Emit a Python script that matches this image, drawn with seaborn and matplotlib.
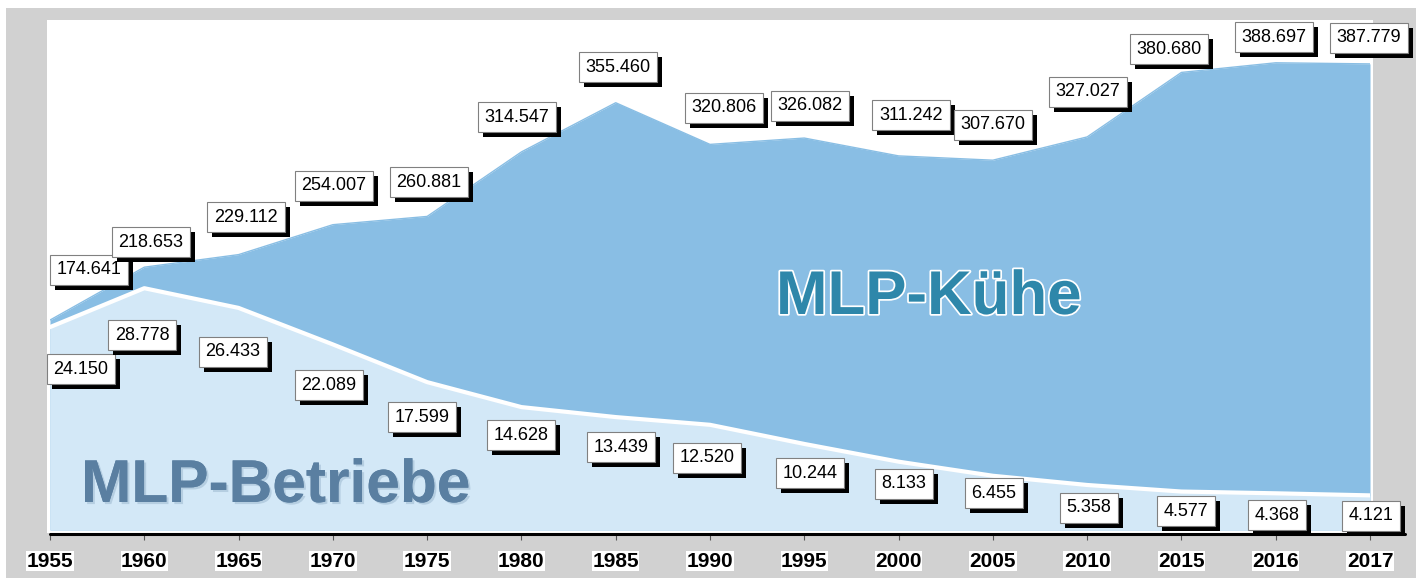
import matplotlib.pyplot as plt
import matplotlib.patheffects as pe
from matplotlib import font_manager
from matplotlib.patches import Rectangle
from matplotlib.lines import Line2D
import seaborn as sns
import pandas as pd

# data
years = ["1955", "1960", "1965", "1970", "1975", "1980", "1985", "1990",
         "1995", "2000", "2005", "2010", "2015", "2016", "2017"]
kuehe = [174641, 218653, 229112, 254007, 260881, 314547, 355460, 320806,
         326082, 311242, 307670, 327027, 380680, 388697, 387779]
betriebe = [24150, 28778, 26433, 22089, 17599, 14628, 13439, 12520,
            10244, 8133, 6455, 5358, 4577, 4368, 4121]

# label box centres in pixels (from top-left)
kuehe_lbl_xy = [(89, 270), (151, 242), (246, 217), (334, 186), (429, 182),
                (517, 117), (618, 67), (724, 108), (810, 106), (911, 115),
                (993, 125), (1088, 92), (1169, 49), (1274, 37), (1369, 38)]
betr_lbl_xy = [(81, 369), (142, 335), (233, 352), (329, 385), (422, 417),
               (521, 435), (621, 447), (707, 458), (810, 473), (904, 484),
               (994, 493), (1089, 508), (1186, 511), (1277, 515), (1371, 516)]

W, H = 1421, 580
KUEHE_C = "#89bee4"
BETR_C = "#d3e8f7"

sns.set_theme(style="white")
plt.rcParams["font.family"] = ["Liberation Sans", "DejaVu Sans"]

names = {f.name for f in font_manager.fontManager.ttflist}
if "Liberation Sans Narrow" in names:
    big_font, k_size, b_size, lift = "Liberation Sans Narrow", 53, 53, 0
else:
    big_font, k_size, b_size, lift = "Liberation Sans", 44.5, 43.5, 4


def fx(x):
    return x / W


def fy(y):
    return 1 - y / H


def de(v):
    return f"{v:,}".replace(",", ".")


df = pd.DataFrame({"pos": range(len(years)), "jahr": years,
                   "kuehe": kuehe, "betriebe": betriebe})

fig = plt.figure(figsize=(W / 100, H / 100), dpi=100, facecolor="white")
fig.patches.append(Rectangle((fx(6), fy(578)), 1410 / W, 570 / H,
                             transform=fig.transFigure, fc="#d1d1d1",
                             ec="none", zorder=-3))
fig.patches.append(Rectangle((fx(47), fy(533)), 1326 / W, 513 / H,
                             transform=fig.transFigure, fc="white",
                             ec="none", zorder=-2))

ax = fig.add_axes([fx(50), 50 / H, 1320 / W, 510 / H])
ax.set_facecolor("none")
ax.fill_between(df["pos"], df["kuehe"], color=KUEHE_C, lw=0)
sns.lineplot(data=df, x="pos", y="kuehe", ax=ax, color=KUEHE_C, lw=1)
ax.set_xlim(0, 14)
ax.set_ylim(0, 424300)

ax2 = ax.twinx()
ax2.fill_between(df["pos"], df["betriebe"], color=BETR_C, lw=0)
sns.lineplot(data=df, x="pos", y="betriebe", ax=ax2, color="white", lw=3)
ax2.set_ylim(0, 60700)

for a in (ax, ax2):
    for s in a.spines.values():
        s.set_visible(False)
    a.set_yticks([])
    a.set_ylabel("")
ax.set_xlabel("")

ax.spines["bottom"].set_position(("outward", 2.5))
ax.set_xticks(df["pos"], labels=years)
ax.tick_params(axis="x", bottom=True, direction="out", length=4.7, width=0.8,
               color="#555555", pad=8.5, labelsize=15)
for t in ax.get_xticklabels():
    t.set_fontweight("bold")
    t.set_color("black")
    t.set_bbox(dict(facecolor="white", edgecolor="none", pad=0.3))

fig.add_artist(Line2D([fx(50), fx(1405)], [fy(533.5)] * 2,
                      transform=fig.transFigure, color="black", lw=2.2))

shadow = [pe.withSimplePatchShadow(offset=(3.6, -3.6), shadow_rgbFace="black",
                                   alpha=1.0)]
for vals, pos in ((kuehe, kuehe_lbl_xy), (betriebe, betr_lbl_xy)):
    for v, (x, y) in zip(vals, pos):
        t = fig.text(fx(x), fy(y), de(v), ha="center", va="center",
                     fontsize=13, color="black",
                     bbox=dict(boxstyle="square,pad=0.38", fc="white",
                               ec="#808080", lw=0.8))
        t.get_bbox_patch().set_path_effects(shadow)

fig.text(fx(776), fy(318 - lift), "MLP-Kühe", ha="left", va="baseline",
         family=big_font, fontsize=k_size, fontweight="bold",
         color="#2e87aa",
         path_effects=[pe.withStroke(linewidth=2.5, foreground="white")])
fig.text(fx(81), fy(506 - lift), "MLP-Betriebe", ha="left", va="baseline",
         family=big_font, fontsize=b_size, fontweight="bold",
         color="#5a7fa1",
         path_effects=[pe.withSimplePatchShadow(offset=(1.5, -1.5),
                                                shadow_rgbFace="#a9c3d9",
                                                alpha=0.7),
                       pe.Normal()])

fig.savefig("out.png", dpi=100)
